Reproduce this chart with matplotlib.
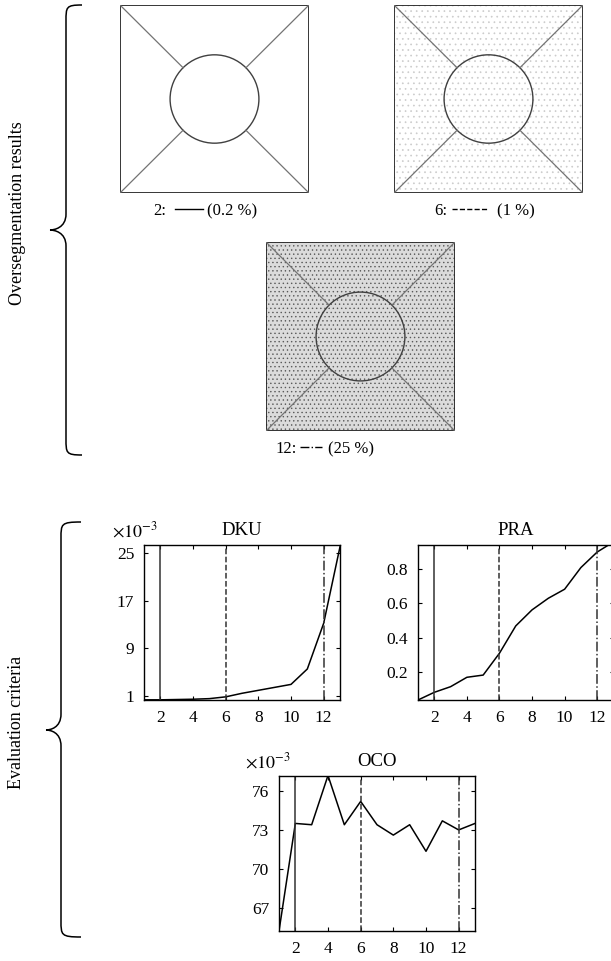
import matplotlib
matplotlib.use('Agg')
import matplotlib.pyplot as plt
import numpy as np
from matplotlib.patches import Rectangle, Circle, PathPatch
from matplotlib.path import Path
from matplotlib.lines import Line2D

plt.rcParams['font.family'] = 'Liberation Serif'
plt.rcParams['mathtext.fontset'] = 'stix'
plt.rcParams['hatch.linewidth'] = 0.5

# segmentation levels marked in the plots, and noise share of each image
levels = [2, 6, 12]
level_styles = ['-', '--', '-.']
noise_pct = ['0.2', '1', '25']
noise_hatch = [None, '...', '....']
noise_face = ['white', 'white', '0.86']
noise_dot = ['white', '0.8', '0.35']

x = np.arange(1, 14)
dku = [0.3, 0.3, 0.35, 0.4, 0.5, 0.8, 1.4, 1.9, 2.4, 2.9, 5.5, 13.2, 26.1]
pra = [0.034, 0.079, 0.112, 0.167, 0.18, 0.308, 0.468, 0.562, 0.63, 0.683, 0.81, 0.901, 0.96]
oco = [65.2, 73.5, 73.4, 77.2, 73.4, 75.2, 73.4, 72.6, 73.4, 71.35, 73.7, 73.0, 73.5]

W, H = 611, 961
fig = plt.figure(figsize=(W / 100, H / 100), dpi=100)


def box(l, t, r, b):
    return [l / W, 1 - b / H, (r - l) / W, (b - t) / H]


def fx(px):
    return px / W


def fy(py):
    return 1 - py / H


# ---- oversegmentation images ----
img_boxes = [(120, 5, 309, 193), (394, 5, 583, 193), (266, 242, 455, 431)]
cap_pos = [(166, 175, 203, 207, 210), (447, 452, 487, 497, 210), (297, 300, 322, 328, 448)]

for i, (l, t, r, b) in enumerate(img_boxes):
    ax = fig.add_axes(box(l, t, r, b))
    ax.set_xlim(0, 1)
    ax.set_ylim(0, 1)
    ax.axis('off')
    if noise_hatch[i]:
        ax.add_patch(Rectangle((0, 0), 1, 1, facecolor=noise_face[i],
                               edgecolor=noise_dot[i], lw=0, hatch=noise_hatch[i]))
    ax.add_patch(Rectangle((0, 0), 1, 1, fill=False, edgecolor='0.15', lw=1.3))
    rad = 0.235
    ax.add_patch(Circle((0.5, 0.5), rad, fill=False, edgecolor='0.25', lw=1.0))
    d = rad / np.sqrt(2)
    for cx, cy in [(0, 0), (1, 0), (0, 1), (1, 1)]:
        sx = 1 if cx == 0 else -1
        sy = 1 if cy == 0 else -1
        ax.plot([cx, 0.5 - sx * d], [cy, 0.5 - sy * d], color='0.45', lw=0.9)

    x_lab, x0, x1, x_pct, yc = cap_pos[i]
    fig.text(fx(x_lab), fy(yc + 1), '%d:' % levels[i], ha='right', va='center', fontsize=12)
    fig.add_artist(Line2D([fx(x0), fx(x1)], [fy(yc - 1), fy(yc - 1)], transform=fig.transFigure,
                          color='black', lw=1.0, linestyle=level_styles[i]))
    fig.text(fx(x_pct), fy(yc + 1), '(%s %%)' % noise_pct[i], ha='left', va='center', fontsize=12)


# ---- evaluation criteria ----
def crit_axes(rect, y, ylim, yticks, title):
    ax = fig.add_axes(box(*rect))
    ax.plot(x, y, color='black', lw=1.1, clip_on=True)
    for lv, ls in zip(levels, level_styles):
        ax.axvline(lv, color='0.2', lw=1.1, linestyle=ls)
    ax.set_xlim(1, 13)
    ax.set_ylim(*ylim)
    ax.set_xticks([2, 4, 6, 8, 10, 12])
    ax.set_yticks(yticks)
    ax.tick_params(direction='in', top=True, right=True, length=3, width=0.8,
                   labelsize=12.5, colors='black')
    ax.tick_params(axis='x', pad=7)
    ax.tick_params(axis='y', pad=7)
    for s in ax.spines.values():
        s.set_linewidth(1.0)
    ax.set_title(title, fontsize=13.5, pad=7)
    return ax


ax1 = crit_axes((144, 545, 340, 700), dku, (0.27, 26.4), [1, 9, 17, 25], 'DKU')
ax1.set_yticklabels(['1', '9', '17', '25'])
fig.text(fx(112), fy(537), r'$\times10^{-3}$', fontsize=13, ha='left', va='baseline')

ax2 = crit_axes((418, 545, 613.5, 700), pra, (0.034, 0.942), [0.2, 0.4, 0.6, 0.8], 'PRA')
ax2.set_yticklabels(['0.2', '0.4', '0.6', '0.8'])

ax3 = crit_axes((279, 776, 475, 931), oco, (65.2, 77.16), [67, 70, 73, 76], 'OCO')
fig.text(fx(245), fy(768), r'$\times10^{-3}$', fontsize=13, ha='left', va='baseline')


# ---- braces and group labels ----
def brace(x_arm, x_mid, x_tip, y_top, y_tip, y_bot):
    r = 16
    verts = [
        (x_arm, y_top),
        (x_mid, y_top), (x_mid, y_top + 2), (x_mid, y_top + r),
        (x_mid, y_tip - r),
        (x_mid, y_tip - 2), (x_tip + 4, y_tip), (x_tip, y_tip),
        (x_tip + 4, y_tip), (x_mid, y_tip + 2), (x_mid, y_tip + r),
        (x_mid, y_bot - r),
        (x_mid, y_bot - 2), (x_mid, y_bot), (x_arm, y_bot),
    ]
    codes = [Path.MOVETO,
             Path.CURVE4, Path.CURVE4, Path.CURVE4,
             Path.LINETO,
             Path.CURVE4, Path.CURVE4, Path.CURVE4,
             Path.CURVE4, Path.CURVE4, Path.CURVE4,
             Path.LINETO,
             Path.CURVE4, Path.CURVE4, Path.CURVE4]
    verts = [(fx(a), fy(b)) for a, b in verts]
    fig.add_artist(PathPatch(Path(verts, codes), transform=fig.transFigure,
                             fill=False, edgecolor='black', lw=1.1))


brace(82, 66, 50, 5, 230, 455)
brace(81, 61, 46, 522, 730, 937)

fig.text(fx(18), fy(213), 'Oversegmentation results', rotation=90, ha='center', va='center',
         fontsize=13)
fig.text(fx(17), fy(722), 'Evaluation criteria', rotation=90, ha='center', va='center',
         fontsize=13)

fig.savefig('out.png', dpi=100)
